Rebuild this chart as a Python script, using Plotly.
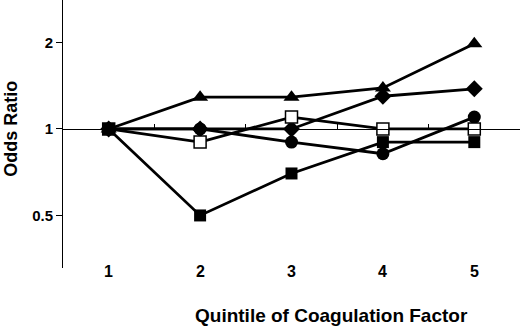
import math
import plotly.graph_objects as go

quintiles = [1, 2, 3, 4, 5]
tick_labels = ["1", "2", "3", "4", "5"]
triangle_vals = [1.0, 1.29, 1.29, 1.39, 1.98]
diamond_vals = [1.0, 1.0, 1.0, 1.30, 1.38]
circle_vals = [1.0, 1.0, 0.90, 0.82, 1.10]
open_square_vals = [1.0, 0.90, 1.10, 1.0, 1.0]
filled_square_vals = [1.0, 0.50, 0.70, 0.90, 0.90]
y_ticks = [0.5, 1, 2]
y_tick_text = ["0.5", "1", "2"]

FONT = "Liberation Sans, Arial, sans-serif"
y_lo, y_hi = -0.484, 0.449
pos_one = (math.log10(1) - y_lo) / (y_hi - y_lo)

fig = go.Figure()

series = [
    (triangle_vals, "triangle-up", 14, "black", 0),
    (diamond_vals, "diamond", 13, "black", 0),
    (circle_vals, "circle", 13, "black", 0),
    (open_square_vals, "square", 12, "white", 1.5),
    (filled_square_vals, "square", 12, "black", 0),
]
for vals, sym, size, fill, lw in series:
    fig.add_trace(go.Scatter(
        x=quintiles, y=vals, mode="lines+markers",
        line=dict(color="black", width=2.8),
        marker=dict(symbol=sym, size=size, color=fill,
                    line=dict(color="black", width=lw)),
        showlegend=False, hoverinfo="skip"))

# dummy trace so the reference axis at OR = 1 is drawn
fig.add_trace(go.Scatter(x=[None], y=[None], xaxis="x2", yaxis="y",
                         showlegend=False, hoverinfo="skip"))

fig.update_layout(
    width=520, height=327,
    margin=dict(l=63, r=0, t=0, b=59),
    paper_bgcolor="white", plot_bgcolor="white",
    font=dict(family=FONT, color="black"),
    xaxis=dict(range=[0.5, 5.5], showticklabels=False, showline=False,
               showgrid=False, zeroline=False, ticks=""),
    xaxis2=dict(range=[0.5, 5.5], overlaying="x", anchor="free",
                position=pos_one, side="bottom", showline=True,
                linecolor="black", linewidth=1, ticks="inside",
                ticklen=5, tickwidth=1, tickcolor="black",
                tickvals=[1.5, 2.5, 3.5, 4.5, 5.5], showticklabels=False,
                showgrid=False, zeroline=False),
    yaxis=dict(type="log", range=[y_lo, y_hi], showline=True,
               linecolor="black", linewidth=1, ticks="outside",
               ticklen=6, tickwidth=1, tickcolor="black",
               tickvals=y_ticks, ticktext=y_tick_text,
               tickfont=dict(size=15, family=FONT, weight="bold"),
               showgrid=False, zeroline=False),
)

for q, lab in zip(quintiles, tick_labels):
    fig.add_annotation(x=q, xref="x", y=0, yref="paper", yshift=-3,
                       yanchor="middle", text=f"<b>{lab}</b>", showarrow=False,
                       font=dict(size=16, family=FONT, color="black"))

fig.add_annotation(x=0, xref="paper", xshift=-52, y=0.52, yref="paper",
                   text="<b>Odds Ratio</b>", textangle=-90, showarrow=False,
                   xanchor="center", yanchor="middle",
                   font=dict(size=18, family=FONT, color="black"))
fig.add_annotation(x=(331 - 63) / 457, xref="paper", y=0, yref="paper",
                   yshift=-47, yanchor="middle", xanchor="center",
                   text="<b>Quintile of Coagulation Factor</b>", showarrow=False,
                   font=dict(size=19, family=FONT, color="black"))

fig.write_html("out.html", config={"displayModeBar": False},
               post_script="document.body.style.margin='0px';")
